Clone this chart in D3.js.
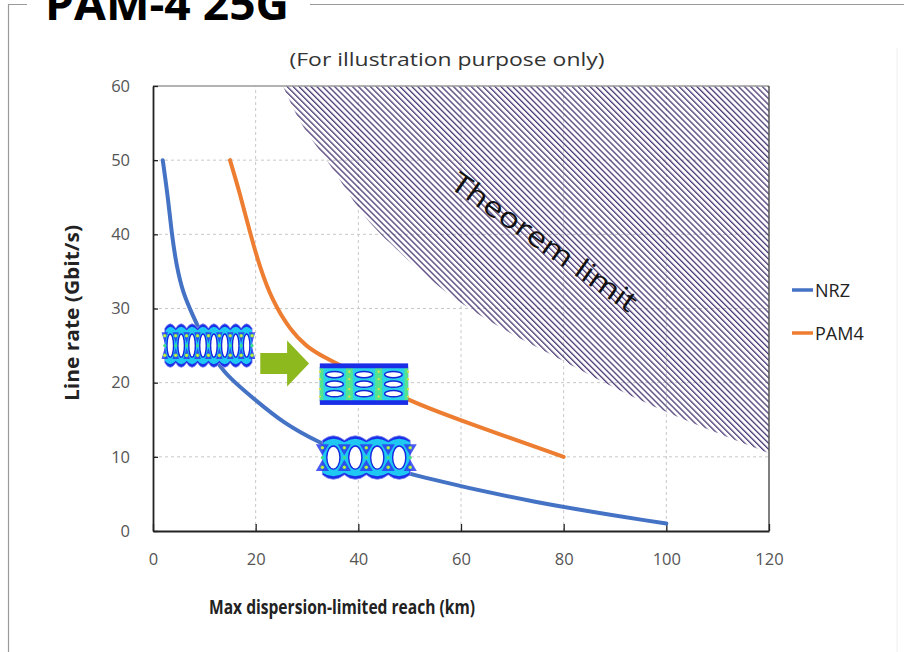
<!DOCTYPE html>
<html><head><meta charset="utf-8">
<script src="https://cdn.jsdelivr.net/npm/d3@7"></script>
<style>html,body{margin:0;padding:0;background:#fff;}svg{display:block;font-family:"Open Sans","Noto Sans",sans-serif;}</style>
</head><body>
<svg id="c" width="904" height="652"></svg>
<script>
// ---- data ----
const xTicks = [0, 20, 40, 60, 80, 100, 120];
const yTicks = [0, 10, 20, 30, 40, 50, 60];
const seriesNames = ["NRZ", "PAM4"];
const nrzX = [1.9, 2.98, 3.64, 4.61, 5.9, 7.54, 10, 13.4, 19.9, 25.3, 32.1, 40, 50.7, 74.0, 100];
const nrzY = [50, 44.6, 40.1, 35.6, 32.0, 29.4, 25.7, 21.4, 17.7, 14.6, 12.0, 9.6, 7.5, 3.8, 1.0];
const pamX = [15, 16.9, 18.9, 20.8, 23.2, 26.7, 30.0, 33.1, 40, 49.9, 61.2, 80];
const pamY = [50, 45.6, 40.2, 35.6, 31.1, 27.1, 24.8, 23.5, 21.1, 17.5, 14.6, 10];
const limitX = [25.3, 29.2, 34.1, 40, 44.2, 59.8, 80, 87.7, 100, 120];
const limitY = [60, 54.1, 50, 43.3, 40, 30, 23, 20, 15.9, 10.5];

const svg = d3.select("#c");
const x = d3.scaleLinear().domain([0, 120]).range([153, 769]);
const y = d3.scaleLinear().domain([0, 60]).range([531, 86]);

// defs
const defs = svg.append("defs");
const pat = defs.append("pattern").attr("id", "hatch").attr("patternUnits", "userSpaceOnUse")
  .attr("width", 4.2).attr("height", 4.2).attr("patternTransform", "rotate(45)");
pat.append("line").attr("x1", 0).attr("x2", 4.2).attr("y1", 1).attr("y2", 1)
  .attr("stroke", "#3a2668").attr("stroke-width", 1.2);
defs.append("clipPath").attr("id", "plotclip").append("rect")
  .attr("x", x(0)).attr("y", y(60)).attr("width", x(120) - x(0)).attr("height", y(0) - y(60));

// outer frame (fieldset-like)
svg.append("path").attr("d", "M27,4.5 H8.5 V652").attr("fill", "none").attr("stroke", "#9a9a9a").attr("stroke-width", 1.2);
svg.append("path").attr("d", "M310,4.5 H904").attr("fill", "none").attr("stroke", "#9a9a9a").attr("stroke-width", 1.2);
svg.append("line").attr("x1", 897).attr("x2", 897).attr("y1", 48).attr("y2", 652).attr("stroke", "#eeeeee");
svg.append("text").attr("x", 45).attr("y", 20).attr("font-size", 44).attr("font-weight", "bold")
  .attr("textLength", 244).attr("lengthAdjust", "spacingAndGlyphs").attr("fill", "#000").text("PAM-4 25G");

// subtitle
svg.append("text").attr("x", 447).attr("y", 66).attr("text-anchor", "middle").attr("font-size", 19)
  .attr("textLength", 315).attr("lengthAdjust", "spacingAndGlyphs").attr("fill", "#333").text("(For illustration purpose only)");

// gridlines
const g = svg.append("g");
g.selectAll(".gx").data(xTicks.filter(d => d > 0 && d < 120)).join("line")
  .attr("x1", d => x(d)).attr("x2", d => x(d)).attr("y1", y(0)).attr("y2", y(60))
  .attr("stroke", "#c8c8c8").attr("stroke-dasharray", "3,3").attr("stroke-width", 1);
g.selectAll(".gy").data(yTicks.filter(d => d > 0 && d < 60)).join("line")
  .attr("x1", x(0)).attr("x2", x(120)).attr("y1", d => y(d)).attr("y2", d => y(d))
  .attr("stroke", "#c8c8c8").attr("stroke-dasharray", "3,3").attr("stroke-width", 1);

// theorem limit region
const limitPts = limitX.map((v, i) => [v, limitY[i]]);
const limLine = d3.line().x(d => x(d[0])).y(d => y(d[1])).curve(d3.curveBasis);
const limPath = limLine(limitPts) + `L${x(120)},${y(60)}L${x(limitX[0])},${y(60)}Z`;
svg.append("path").attr("d", limPath).attr("fill", "url(#hatch)").attr("clip-path", "url(#plotclip)");

// label theorem limit
svg.append("text").attr("transform", "translate(545,241) rotate(35)").attr("text-anchor", "middle")
  .attr("dominant-baseline", "central").attr("font-size", 28).attr("fill", "#111")
  .attr("textLength", 220).attr("lengthAdjust", "spacingAndGlyphs").text("Theorem limit");

// plot box
svg.append("line").attr("x1", x(0)).attr("x2", x(120)).attr("y1", y(60)).attr("y2", y(60)).attr("stroke", "#9a9a9a").attr("stroke-width", 1.5);
svg.append("line").attr("x1", x(120)).attr("x2", x(120)).attr("y1", y(60)).attr("y2", y(0)).attr("stroke", "#555").attr("stroke-width", 1.5);

// axes
const xAxis = d3.axisBottom(x).tickValues(xTicks).tickSizeInner(-7).tickSizeOuter(0).tickPadding(22);
const yAxis = d3.axisLeft(y).tickValues(yTicks).tickSizeInner(-5).tickSizeOuter(0).tickPadding(20);
const gx = svg.append("g").attr("transform", `translate(0,${y(0)})`).call(xAxis);
const gy = svg.append("g").attr("transform", `translate(${x(0)},0)`).call(yAxis);
[gx, gy].forEach(a => {
  a.select(".domain").attr("stroke", "#222").attr("stroke-width", 1.8);
  a.selectAll(".tick line").attr("stroke", "#222").attr("stroke-width", 1.3);
  a.selectAll(".tick text").attr("font-size", 16.5).attr("fill", "#555").attr("font-family", "'Open Sans',sans-serif");
});
gy.selectAll(".tick text").attr("x", -23);

// axis titles
svg.append("text").attr("x", 342).attr("y", 614).attr("text-anchor", "middle").attr("font-size", 19).attr("font-weight", "bold")
  .attr("textLength", 266).attr("lengthAdjust", "spacingAndGlyphs").attr("fill", "#222").text("Max dispersion-limited reach (km)");
svg.append("text").attr("transform", "translate(79,313) rotate(-90)").attr("text-anchor", "middle").attr("font-size", 19).attr("font-weight", "bold")
  .attr("textLength", 176).attr("lengthAdjust", "spacingAndGlyphs").attr("fill", "#222").text("Line rate (Gbit/s)");

// series
const colors = {NRZ: "#4472C4", PAM4: "#ED7D31"};
const line = d3.line().x(d => x(d[0])).y(d => y(d[1])).curve(d3.curveBasis);
const series = [
  {name: "NRZ", pts: nrzX.map((v, i) => [v, nrzY[i]])},
  {name: "PAM4", pts: pamX.map((v, i) => [v, pamY[i]])}
];
svg.selectAll(".series").data(series).join("path")
  .attr("d", d => line(d.pts)).attr("fill", "none").attr("stroke", d => colors[d.name])
  .attr("stroke-width", 4).attr("stroke-linecap", "round");

// legend
const lg = svg.selectAll(".lg").data(seriesNames).join("g").attr("transform", (d, i) => `translate(792,${290 + i * 43})`);
lg.append("line").attr("x1", 0).attr("x2", 21).attr("stroke", d => colors[d]).attr("stroke-width", 3.5);
lg.append("text").attr("x", 23).attr("dominant-baseline", "central").attr("font-size", 18).attr("fill", "#222").text(d => d);

// ---- eye diagram illustrations (in data coords) ----
const eyeBoxes = [
  {type: "nrz", x0: 2.3, x1: 19.3, y0: 28.0, y1: 22.0, n: 8},
  {type: "pam", x0: 32.5, x1: 49.7, y0: 22.6, y1: 17.0, n: 3},
  {type: "nrz", x0: 33.0, x1: 50.1, y0: 12.9, y1: 6.9, n: 4}
];
function drawNRZ(gr, X0, Y0, W, H, n) {
  const p = W / n;
  let d = `M${X0},${Y0 + 5}`;
  for (let i = 0; i < n; i++) {
    const a = X0 + i * p;
    d += ` Q${a + p / 2},${Y0 - 4} ${a + p},${Y0 + 5}`;
  }
  d += ` L${X0 + W},${Y0 + H - 5}`;
  for (let i = n - 1; i >= 0; i--) {
    const a = X0 + i * p;
    d += ` Q${a + p / 2},${Y0 + H + 4} ${a},${Y0 + H - 5}`;
  }
  d += "Z";
  gr.append("path").attr("d", d).attr("fill", "#1a2ee8").attr("stroke", "#8a8cf0").attr("stroke-width", 0.8);
  let d2 = `M${X0 + 1},${Y0 + 7}`;
  for (let i = 0; i < n; i++) {
    const a = X0 + i * p;
    d2 += ` Q${a + p / 2},${Y0 + 0} ${a + p},${Y0 + 7}`;
  }
  d2 += ` L${X0 + W - 1},${Y0 + H - 7}`;
  for (let i = n - 1; i >= 0; i--) {
    const a = X0 + i * p;
    d2 += ` Q${a + p / 2},${Y0 + H} ${a},${Y0 + H - 7}`;
  }
  d2 += "Z";
  gr.append("path").attr("d", d2).attr("fill", "#1fc8f2");
  for (let i = 0; i <= n; i++) {
    const cx = X0 + i * p;
    gr.append("path").attr("d", `M${cx - p * 0.3},${Y0 + H * 0.2} L${cx + p * 0.3},${Y0 + H * 0.2} L${cx},${Y0 + H * 0.45}Z`).attr("fill", "#2a3cf0").attr("opacity", 0.85);
    gr.append("path").attr("d", `M${cx - p * 0.3},${Y0 + H * 0.8} L${cx + p * 0.3},${Y0 + H * 0.8} L${cx},${Y0 + H * 0.55}Z`).attr("fill", "#2a3cf0").attr("opacity", 0.85);
  }
  for (let i = 0; i < n; i++) {
    const cx = X0 + (i + 0.5) * p;
    gr.append("ellipse").attr("cx", cx).attr("cy", Y0 + H / 2).attr("rx", p * 0.3).attr("ry", H * 0.26)
      .attr("fill", "#fff").attr("stroke", "#1426e0").attr("stroke-width", 1.4);
  }
  for (let i = 0; i <= n; i++) {
    const cx = X0 + i * p;
    [0.28, 0.72].forEach(f => {
      gr.append("circle").attr("cx", cx).attr("cy", Y0 + H * f).attr("r", 1.8).attr("fill", "#8cf04a");
      gr.append("circle").attr("cx", cx).attr("cy", Y0 + H * f).attr("r", 0.9).attr("fill", "#f0e040");
    });
    gr.append("circle").attr("cx", cx).attr("cy", Y0 + H * 0.5).attr("r", 1.6).attr("fill", "#40e08a");
  }
}
function drawPAM(gr, X0, Y0, W, H, n) {
  gr.append("rect").attr("x", X0).attr("y", Y0).attr("width", W).attr("height", H).attr("fill", "#1a2ee8");
  gr.append("rect").attr("x", X0).attr("y", Y0 + 4).attr("width", W).attr("height", H - 8).attr("fill", "#2bd3e8");
  const p = W / n;
  for (let i = 0; i <= n; i++) {
    const cx = X0 + i * p;
    gr.append("rect").attr("x", Math.max(X0, cx - p * 0.12)).attr("y", Y0 + 4)
      .attr("width", Math.min(X0 + W, cx + p * 0.12) - Math.max(X0, cx - p * 0.12)).attr("height", H - 8).attr("fill", "#5fe87a").attr("opacity", 0.8);
  }
  [0.1, 0.9].forEach(f => gr.append("line").attr("x1", X0).attr("x2", X0 + W).attr("y1", Y0 + H * f).attr("y2", Y0 + H * f).attr("stroke", "#1a2ee8").attr("stroke-width", 1.2));
  for (let i = 0; i < n; i++) {
    const cx = X0 + (i + 0.5) * p;
    [0.27, 0.5, 0.73].forEach(f => {
      gr.append("ellipse").attr("cx", cx).attr("cy", Y0 + H * f).attr("rx", p * 0.3).attr("ry", H * 0.075)
        .attr("fill", "#fff").attr("stroke", "#1426d8").attr("stroke-width", 1.5);
    });
  }
  for (let i = 0; i <= n; i++) {
    const cx = X0 + i * p;
    [0.2, 0.38, 0.62, 0.8].forEach(f => gr.append("circle").attr("cx", cx).attr("cy", Y0 + H * f).attr("r", 1.1).attr("fill", "#e8e040"));
  }
}
eyeBoxes.forEach(b => {
  const X0 = x(b.x0), X1 = x(b.x1), Y0 = y(b.y0), Y1 = y(b.y1);
  const gr = svg.append("g");
  if (b.type === "nrz") drawNRZ(gr, X0, Y0, X1 - X0, Y1 - Y0, b.n);
  else drawPAM(gr, X0, Y0, X1 - X0, Y1 - Y0, b.n);
});

// green arrow
const ax0 = x(20.9), ax1 = x(30.4), am = y(22.6);
const aMid = ax0 + (ax1 - ax0) * 0.55;
svg.append("path").attr("d",
  `M${ax0},${am - 10.5} L${aMid},${am - 10.5} L${aMid},${am - 23} L${ax1},${am} L${aMid},${am + 23} L${aMid},${am + 10.5} L${ax0},${am + 10.5}Z`)
  .attr("fill", "#8DB81E");
</script>
</body></html>
